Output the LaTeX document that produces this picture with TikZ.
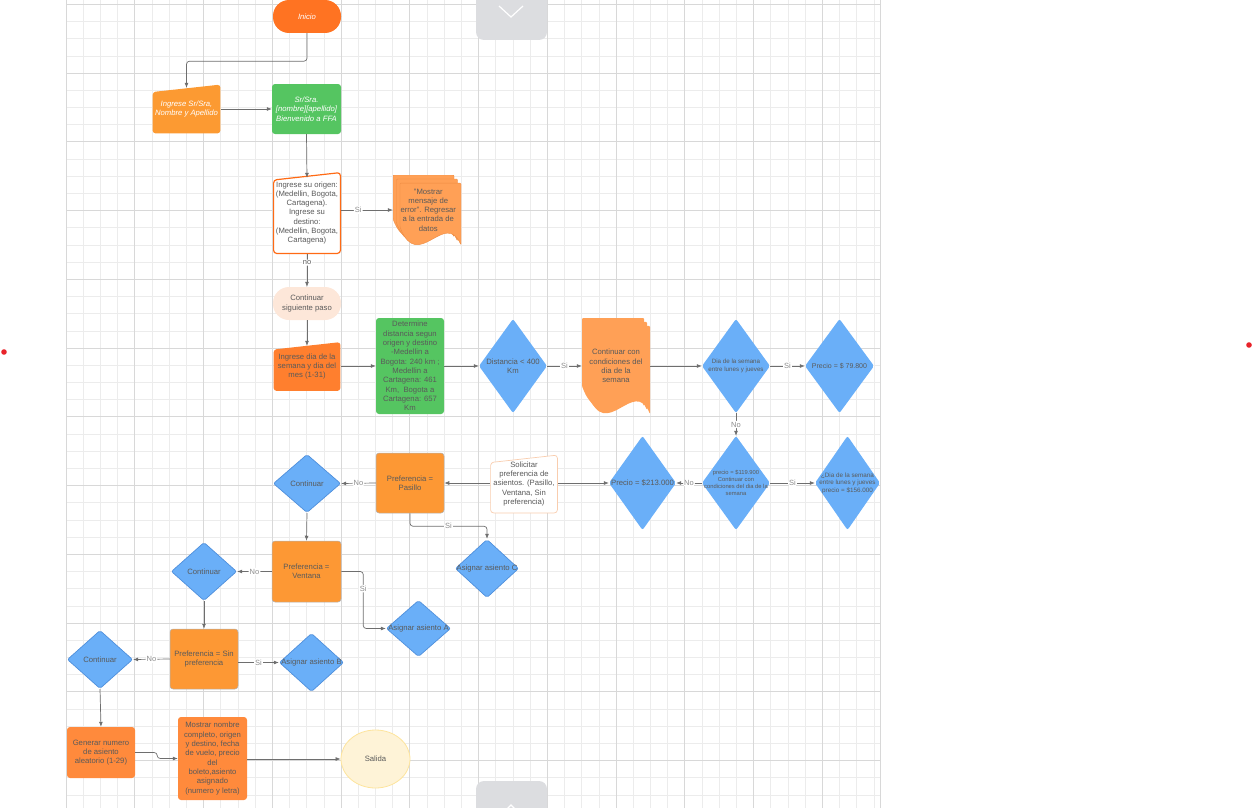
\documentclass[tikz,border=0pt]{standalone}
\usepackage{fontspec}
\setmainfont{Liberation Sans}
\usetikzlibrary{arrows.meta, shapes.geometric}

\definecolor{gridminor}{HTML}{ECECEC}
\definecolor{gridmajor}{HTML}{D8D8D8}
\definecolor{txtgray}{HTML}{5A5A5A}
\definecolor{lblgray}{HTML}{8C8C8C}
\definecolor{linegray}{HTML}{6E6E6E}
\definecolor{startorange}{HTML}{FF7322}
\definecolor{inorange}{HTML}{FC9A32}
\definecolor{dayorange}{HTML}{FF7F2E}
\definecolor{boxorange}{HTML}{FD9834}
\definecolor{endorange}{HTML}{FF8A3C}
\definecolor{docorange}{HTML}{FFA056}
\definecolor{docedge}{HTML}{EE8C42}
\definecolor{edgeorange}{HTML}{FF6A14}
\definecolor{paleorange}{HTML}{F9CDAE}
\definecolor{peach}{HTML}{FDE7D9}
\definecolor{okgreen}{HTML}{55C561}
\definecolor{diablue}{HTML}{6AAFF8}
\definecolor{diaedge}{HTML}{4F8FDB}
\definecolor{exitfill}{HTML}{FEF3D7}
\definecolor{exitedge}{HTML}{FDE49C}
\definecolor{btngray}{HTML}{DCDDE0}
\definecolor{dotred}{HTML}{E8232A}

\begin{document}
\begin{tikzpicture}[x=1pt, y=-1pt, >={Latex[length=5pt, width=4pt]},
    every node/.style={inner sep=0pt, align=center, text=txtgray,
        font=\fontsize{7.7}{9.3}\selectfont},
    wh/.style 2 args={minimum width=#1pt, minimum height=#2pt},
    box/.style={rectangle, rounded corners=3pt, fill=#1},
    whitetxt/.style={text=white, font=\fontsize{7.7}{9.3}\selectfont\itshape},
    dia/.style={path picture={\fill[diablue, rounded corners=2pt]
        (path picture bounding box.west) -- (path picture bounding box.north) --
        (path picture bounding box.east) -- (path picture bounding box.south) -- cycle;}},
    diaedge/.style={path picture={\filldraw[fill=diablue, draw=diaedge, line width=0.7pt, rounded corners=2pt]
        ([xshift=0.5pt]path picture bounding box.west) -- ([yshift=-0.5pt]path picture bounding box.north) --
        ([xshift=-0.5pt]path picture bounding box.east) -- ([yshift=0.5pt]path picture bounding box.south) -- cycle;}},
    minput/.style 2 args={path picture={\filldraw[fill=#1, line width=1.2pt, draw=#2, rounded corners=3pt]
        ([xshift=0.6pt, yshift=0.6pt]path picture bounding box.south west) --
        ([xshift=0.6pt, yshift=-8pt]path picture bounding box.north west) --
        ([xshift=-0.6pt, yshift=-0.6pt]path picture bounding box.north east) --
        ([xshift=-0.6pt, yshift=0.6pt]path picture bounding box.south east) -- cycle;}},
    docpage/.style={fill=docorange, rounded corners=1pt},
    conn/.style={draw=linegray, line width=0.7pt, rounded corners=3pt},
    lbl/.style={fill=white, inner sep=1pt, text=lblgray, font=\fontsize{7.5}{9}\selectfont}
]
    \useasboundingbox (0, 0) rectangle (1253, 808);

    % Grid
    \foreach \i [evaluate = \i as \gx using 66 + \i*17.1875] in {0,...,47}
        \draw[gridminor, line width=0.6pt] (\gx, 0) -- (\gx, 808);
    \foreach \i [evaluate = \i as \gy using 4.25 + \i*17.1875] in {0,...,46}
        \draw[gridminor, line width=0.6pt] (66, \gy) -- (880, \gy);
    \foreach \i [evaluate = \i as \gx using 66 + \i*68.75] in {0,...,11}
        \draw[gridmajor, line width=0.9pt] (\gx, 0) -- (\gx, 808);
    \foreach \i [evaluate = \i as \gy using 4.25 + \i*68.75] in {0,...,11}
        \draw[gridmajor, line width=0.9pt] (66, \gy) -- (880, \gy);
    \draw[gridmajor, line width=0.6pt] (880, 0) -- (880, 808);

    % Page buttons and markers
    \fill[btngray, rounded corners=8pt] (476, 0) -- (476, 40) -- (547, 40) -- (547, 0);
    \draw[white, line width=1.2pt] (499, 6) -- (511, 17) -- (523, 6);
    \fill[btngray, rounded corners=8pt] (476, 808) -- (476, 781) -- (547, 781) -- (547, 808);
    \draw[white, line width=1.2pt] (503, 813) -- (511, 805) -- (519, 813);
    \fill[dotred] (4, 352) circle (2.8pt);
    \fill[dotred] (1249, 345) circle (2.8pt);

    % Nodes
    \node[box=startorange, rounded corners=16pt, wh={68}{33}, whitetxt] at (307, 16.5) (inicio) {Inicio};
    \node[wh={69}{50}, minput={inorange}{none}, whitetxt] at (186.5, 109) (nombre) {Ingrese Sr/Sra,\\Nombre y Apellido};
    \node[box=okgreen, wh={69}{50}, whitetxt] at (306.5, 109) (saludo) {Sr/Sra.\\{[nombre][apellido]}\\Bienvenido a FFA};
    \node[wh={68}{82}, minput={white}{edgeorange}] at (307, 213) (origen)
        {Ingrese su origen:\\(Medellin, Bogota,\\Cartagena).\\Ingrese su\\destino:\\(Medellin, Bogota,\\Cartagena)};
    \node[wh={68}{70}, path picture={
        \foreach \s in {0, 3.5, 7}
            \filldraw[docpage, draw=docedge, line width=0.4pt]
                ([xshift=\s pt, yshift=-\s*1.15 pt]path picture bounding box.north west) --
                ([xshift=\s pt - 7pt, yshift=-\s*1.15 pt]path picture bounding box.north east) --
                ([xshift=\s pt - 7pt, yshift=8pt - \s*1.15 pt]path picture bounding box.south east) ..
                controls ([xshift=\s pt - 23pt, yshift=44pt - \s*1.15 pt]path picture bounding box.south east) and
                         ([xshift=\s pt + 18pt, yshift=-20pt - \s*1.15 pt]path picture bounding box.south west) ..
                ([xshift=\s pt, yshift=26pt - \s*1.15 pt]path picture bounding box.south west) -- cycle;
        }] at (427, 210) (error) {\,\,"Mostrar\\\,\,mensaje de\\\,\,error". Regresar\\\,\,a la entrada de\\\,\,datos};
    \node[box=peach, rounded corners=16pt, wh={68}{33}] at (307, 303.5) (sigpaso) {Continuar\\siguiente paso};
    \node[wh={68}{50}, minput={dayorange}{none}] at (307, 366.5) (dia) {Ingrese dia de la\\semana y dia del\\mes (1-31)};
    \node[box=okgreen, wh={68}{96}] at (410, 366) (dist)
        {Determine\\distancia segun\\origen y destino\\-{}Medellin a\\Bogota: 240 km ;\\Medellin a\\Cartagena: 461\\Km,\ \ Bogota a\\Cartagena: 657\\Km};
    \node[wh={68}{94}, dia] at (513, 366) (d400) {Distancia < 400\\Km};
    \node[wh={68}{96}, path picture={
        \foreach \s in {6, 3, 0}
            \fill[docpage]
                ([xshift=\s pt, yshift=-\s*1.3 pt]path picture bounding box.north west) --
                ([xshift=\s pt - 6pt, yshift=-\s*1.3 pt]path picture bounding box.north east) --
                ([xshift=\s pt - 6pt, yshift=7.8pt - \s*1.3 pt]path picture bounding box.south east) ..
                controls ([xshift=\s pt - 22pt, yshift=46pt - \s*1.3 pt]path picture bounding box.south east) and
                         ([xshift=\s pt + 18pt, yshift=-22pt - \s*1.3 pt]path picture bounding box.south west) ..
                ([xshift=\s pt, yshift=28pt - \s*1.3 pt]path picture bounding box.south west) -- cycle;
        }] at (616, 366) (condic) {Continuar con\\condiciones del\\dia de la\\semana};
    \node[wh={68}{94}, dia, font=\fontsize{6.2}{7.6}\selectfont] at (736, 366) (dsem) {Dia de la semana\\entre lunes y jueves};
    \node[wh={69}{94}, dia, font=\fontsize{7}{8.4}\selectfont] at (839.5, 366) (p79) {Precio = \$ 79.800};
    \node[wh={68}{94}, dia, font=\fontsize{5.8}{6.8}\selectfont] at (736, 483) (p119)
        {precio = \$119.900\\Continuar con\\condiciones del dia de la\\semana};
    \node[wh={65}{94}, dia, font=\fontsize{6.3}{7.6}\selectfont] at (847.5, 483) (p156)
        {¿Dia de la semana\\entre lunes y jueves\\precio = \$156.000};
    \node[wh={67}{94}, dia] at (642.5, 483) (p213) {Precio = \$213.000};
    \node[wh={68}{59}, minput={white}{paleorange, line width=0.7pt}] at (524, 484) (solic)
        {Solicitar\\preferencia de\\asientos. (Pasillo,\\Ventana, Sin\\preferencia)};
    \node[box=boxorange, draw=black!30, line width=0.5pt, wh={68}{60}] at (410, 483) (pasillo) {Preferencia =\\Pasillo};
    \node[wh={68}{59}, diaedge] at (307, 483.5) (cont1) {Continuar};
    \node[wh={64}{59}, diaedge] at (487, 568.5) (asigc) {Asignar asiento C};
    \node[box=boxorange, draw=black!30, line width=0.5pt, wh={69}{61}] at (306.5, 571.5) (ventana) {Preferencia =\\Ventana};
    \node[wh={66}{59}, diaedge] at (204, 571.5) (cont2) {Continuar};
    \node[wh={65}{57}, diaedge] at (418.5, 628.5) (asiga) {Asignar asiento A};
    \node[box=boxorange, draw=black!30, line width=0.5pt, wh={68}{60}] at (204, 659) (sinpref) {Preferencia = Sin\\preferencia};
    \node[wh={66}{59}, diaedge] at (100, 659.5) (cont3) {Continuar};
    \node[wh={65}{59}, diaedge] at (311.5, 662.5) (asigb) {Asignar asiento B};
    \node[box=endorange, wh={68}{51}] at (101, 752.5) (generar) {Generar numero\\de asiento\\aleatorio (1-29)};
    \node[box=endorange, wh={69}{83}] at (212.5, 758.5) (mostrar)
        {Mostrar nombre\\completo, origen\\y destino, fecha\\de vuelo, precio\\del\\boleto,asiento\\asignado\\(numero y letra)};
    \node[ellipse, fill=exitfill, draw=exitedge, line width=0.8pt, wh={69}{58}] at (375.5, 759) (salida) {Salida};

    % Edges
    \draw[->, conn] (inicio.south) -- ++(0, 28) -| ([yshift = -4pt]nombre.north);
    \draw[->, conn] (nombre.east) -- (saludo.west);
    \draw[->, conn] (saludo.south) -- ([yshift = -6pt]origen.north);
    \draw[->, conn] (origen.east |- error.west) -- (error.west)
        node[lbl, pos = 0.33] {Si};
    \draw[->, conn] (origen.south) -- (sigpaso.north)
        node[lbl, pos = 0.26, text = txtgray] {no};
    \draw[->, conn] (sigpaso.south) -- ([yshift = -4.5pt]dia.north);
    \draw[->, conn] (dia.east |- dist.west) -- (dist.west);
    \draw[->, conn] (dist.east) -- (d400.west);
    \draw[->, conn] (d400.east) -- (condic.west)
        node[lbl, midway] {Si};
    \draw[->, conn] (condic.east) -- (dsem.west);
    \draw[->, conn] (dsem.east) -- (p79.west)
        node[lbl, midway] {Si};
    \draw[->, conn] (dsem.south) -- (p119.north)
        node[lbl, midway] {No};
    \draw[->, conn] (p119.east) -- (p156.west)
        node[lbl, midway] {Si};
    \draw[->, conn] (p119.west) -- (p213.east)
        node[lbl, midway] {No};
    \draw[->, conn] (solic.east |- p213.west) -- (p213.west);
    \draw[->, conn] (solic.west |- pasillo.east) -- (pasillo.east);
    \draw[->, conn] (pasillo.west) -- (cont1.east)
        node[lbl, midway] {No};
    \draw[->, conn] (pasillo.south) -- ++(0, 13) -| (asigc.north)
        node[lbl, pos = 0.25] {Si};
    \draw[->, conn] (cont1.south) -- (ventana.north);
    \draw[->, conn] (ventana.west) -- (cont2.east)
        node[lbl, midway] {No};
    \draw[->, conn] (ventana.east) -- ++(22, 0) |- (asiga.west)
        node[lbl, pos = 0.15] {Si};
    \draw[->, conn] (cont2.south) -- (sinpref.north);
    \draw[->, conn] (sinpref.west) -- (cont3.east)
        node[lbl, midway] {No};
    \draw[->, conn] (sinpref.east |- asigb.west) -- (asigb.west)
        node[lbl, midway] {Si};
    \draw[->, conn] (cont3.south) -- (generar.north);
    \draw[->, conn] (generar.east) -- ++(22, 0) |- (mostrar.west);
    \draw[->, conn] (mostrar.east |- salida.west) -- (salida.west);
\end{tikzpicture}
\end{document}
